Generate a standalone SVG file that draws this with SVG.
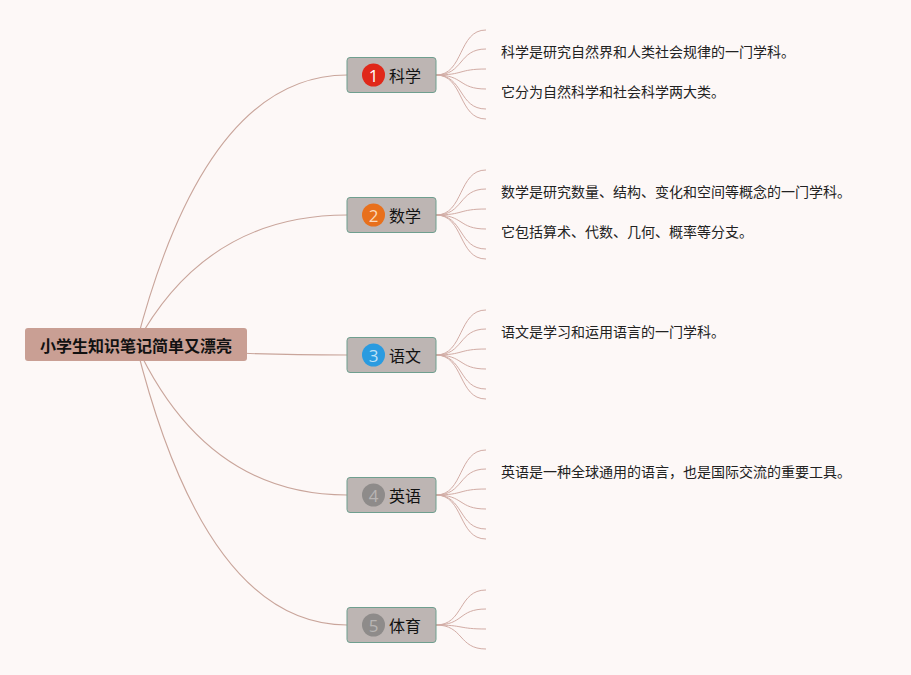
<svg xmlns="http://www.w3.org/2000/svg" width="911" height="675" viewBox="0 0 911 675">
<style>
text{font-family:"Noto Sans CJK SC","Noto Sans",sans-serif;}
.main{fill:none;stroke:#c9a59b;stroke-width:1.1;}
.fan{fill:none;stroke:#d2aca5;stroke-width:1;}
.sub rect{fill:#bdb5b3;stroke:#6f9f8f;stroke-width:1;}
.lbl{font-size:16px;fill:#111;dominant-baseline:central;}
.num{font-size:17px;dominant-baseline:central;text-anchor:middle;font-family:"Open Sans","Noto Sans",sans-serif;}
.leaf{font-size:14px;fill:#222;dominant-baseline:central;}
</style>
<rect x="0" y="0" width="911" height="675" fill="#fdf8f7"/>
<g id="connectors">
<path class="main" d="M136,344.5 Q206,75 347,75"/>
<path class="main" d="M136,344.5 Q206,215 347,215"/>
<path class="main" d="M136,344.5 Q206,355 347,355"/>
<path class="main" d="M136,344.5 Q206,495 347,495"/>
<path class="main" d="M136,344.5 Q206,625 347,625"/>
<path class="fan" d="M436,75 C464,75 458,30 486,30 M436,75 C464,75 458,49 486,49 M436,75 C464,75 458,69 486,69 M436,75 C464,75 458,89 486,89 M436,75 C464,75 458,109 486,109 M436,75 C464,75 458,119 486,119"/>
<path class="fan" d="M436,215 C464,215 458,170 486,170 M436,215 C464,215 458,189 486,189 M436,215 C464,215 458,209 486,209 M436,215 C464,215 458,229 486,229 M436,215 C464,215 458,249 486,249 M436,215 C464,215 458,259 486,259"/>
<path class="fan" d="M436,355 C464,355 458,310 486,310 M436,355 C464,355 458,329 486,329 M436,355 C464,355 458,349 486,349 M436,355 C464,355 458,369 486,369 M436,355 C464,355 458,389 486,389 M436,355 C464,355 458,399 486,399"/>
<path class="fan" d="M436,495 C464,495 458,450 486,450 M436,495 C464,495 458,469 486,469 M436,495 C464,495 458,489 486,489 M436,495 C464,495 458,509 486,509 M436,495 C464,495 458,529 486,529 M436,495 C464,495 458,539 486,539"/>
<path class="fan" d="M436,625 C464,625 458,590 486,590 M436,625 C464,625 458,609 486,609 M436,625 C464,625 458,629 486,629 M436,625 C464,625 458,649 486,649"/>
</g>
<g id="root">
<rect x="25" y="328" width="222" height="33" rx="3" fill="#c99f94"/>
<text x="136" y="344.5" font-size="16" font-weight="bold" fill="#111" text-anchor="middle" dominant-baseline="central">小学生知识笔记简单又漂亮</text>
</g>
<g id="n1" class="sub">
<rect x="347" y="57.5" width="89" height="35" rx="3"/>
<circle cx="373.5" cy="75" r="11.5" fill="#e0281a"/>
<text class="num" x="373.5" y="75" fill="#fff">1</text>
<text class="lbl" x="389" y="75">科学</text>
</g>
<g id="n2" class="sub">
<rect x="347" y="197.5" width="89" height="35" rx="3"/>
<circle cx="373.5" cy="215" r="11.5" fill="#e8701c"/>
<text class="num" x="373.5" y="215" fill="#fbd9bd">2</text>
<text class="lbl" x="389" y="215">数学</text>
</g>
<g id="n3" class="sub">
<rect x="347" y="337.5" width="89" height="35" rx="3"/>
<circle cx="373.5" cy="355" r="11.5" fill="#2a9be0"/>
<text class="num" x="373.5" y="355" fill="#bfe2f7">3</text>
<text class="lbl" x="389" y="355">语文</text>
</g>
<g id="n4" class="sub">
<rect x="347" y="477.5" width="89" height="35" rx="3"/>
<circle cx="373.5" cy="495" r="11.5" fill="#8e8b8a"/>
<text class="num" x="373.5" y="495" fill="#b8b5b4">4</text>
<text class="lbl" x="389" y="495">英语</text>
</g>
<g id="n5" class="sub">
<rect x="347" y="607.5" width="89" height="35" rx="3"/>
<circle cx="373.5" cy="625" r="11.5" fill="#8e8b8a"/>
<text class="num" x="373.5" y="625" fill="#b8b5b4">5</text>
<text class="lbl" x="389" y="625">体育</text>
</g>
<g id="leaf1a"><text class="leaf" x="501" y="50.5">科学是研究自然界和人类社会规律的一门学科。</text></g>
<g id="leaf1b"><text class="leaf" x="501" y="90.5">它分为自然科学和社会科学两大类。</text></g>
<g id="leaf2a"><text class="leaf" x="501" y="190.5">数学是研究数量、结构、变化和空间等概念的一门学科。</text></g>
<g id="leaf2b"><text class="leaf" x="501" y="230.5">它包括算术、代数、几何、概率等分支。</text></g>
<g id="leaf3a"><text class="leaf" x="501" y="330.5">语文是学习和运用语言的一门学科。</text></g>
<g id="leaf4a"><text class="leaf" x="501" y="470.5">英语是一种全球通用的语言，也是国际交流的重要工具。</text></g>
</svg>
